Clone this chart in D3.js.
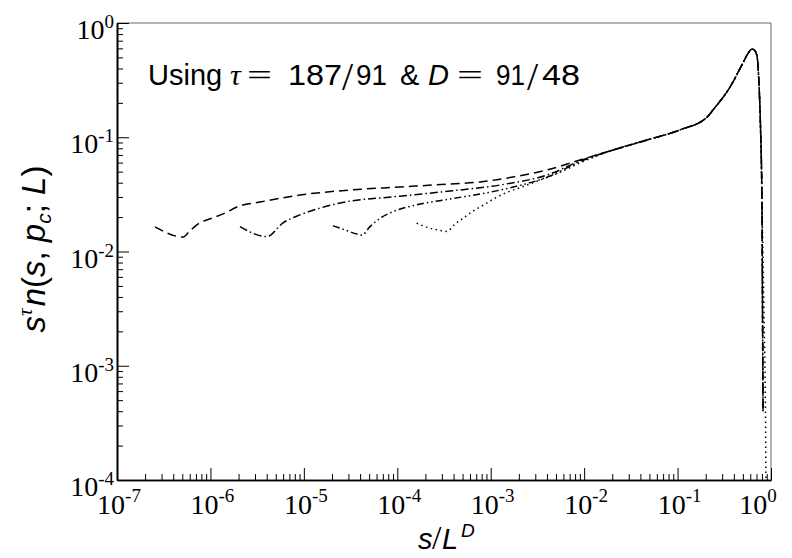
<!DOCTYPE html>
<html>
<head>
<meta charset="utf-8">
<script src="https://cdn.jsdelivr.net/npm/d3@7"></script>
<style>
  html, body { margin: 0; padding: 0; background: #fff; }
  svg { display: block; }
  .serif { font-family: "Liberation Serif", "Times New Roman", serif; }
  .sans { font-family: "Liberation Sans", Arial, Helvetica, sans-serif; }
</style>
</head>
<body>
<svg id="chart" width="792" height="558"></svg>
<script>
// Scaled cluster-size distribution s^tau n(s, p_c; L) versus s/L^D for four lattice sizes.
// Each series: small-s head (own finite-size behaviour) followed by the common scaling tail.

// series 1 (largest L), dashed
const headL1 = [
  [2.55e-7, 0.0164], [5.1e-7, 0.0134], [6.0e-7, 0.0151], [7.7e-7, 0.0178],
  [1.04e-6, 0.0196], [1.43e-6, 0.0217], [1.92e-6, 0.0245], [3.4e-6, 0.0271],
  [9.1e-6, 0.0312], [3.1e-5, 0.0345], [1.07e-4, 0.0367], [3.66e-4, 0.0390],
  [7.7e-4, 0.0406], [1.73e-3, 0.0449], [4.0e-3, 0.0517], [9.0e-3, 0.0632]
];
// series 2, dash-dot
const headL2 = [
  [2.07e-6, 0.0165], [4.03e-6, 0.0135], [5.98e-6, 0.0178], [9.1e-6, 0.0209],
  [1.49e-5, 0.0240], [2.44e-5, 0.0266], [1.07e-4, 0.0305], [3.66e-4, 0.0338],
  [1.26e-3, 0.0382], [4.31e-3, 0.0477], [9.0e-3, 0.0620]
];
// series 3, dash-dot-dot
const headL3 = [
  [2.05e-5, 0.0168], [2.62e-5, 0.0157], [3.71e-5, 0.0142], [4.19e-5, 0.0139],
  [5.1e-5, 0.0165], [6.5e-5, 0.0195], [9.0e-5, 0.0223], [1.75e-4, 0.0260],
  [3.66e-4, 0.0288], [1.26e-3, 0.0345], [4.31e-3, 0.0458], [9.0e-3, 0.0610]
];
// series 4 (smallest L), dotted
const headL4 = [
  [1.61e-4, 0.0177], [2.24e-4, 0.0160], [2.86e-4, 0.0153], [3.40e-4, 0.0150],
  [4.15e-4, 0.0174], [4.93e-4, 0.0192], [6.46e-4, 0.0226], [7.7e-4, 0.0245],
  [1.17e-3, 0.0300], [2.63e-3, 0.0390], [5.94e-3, 0.0507], [9.0e-3, 0.0595]
];
// common scaling function near the cutoff
const tailShared = [
  [0.0204, 0.0773], [0.0471, 0.0946], [0.106, 0.116], [0.207, 0.150],
  [0.239, 0.173], [0.364, 0.275], [0.501, 0.447], [0.57, 0.545],
  [0.627, 0.592], [0.67, 0.575], [0.708, 0.514], [0.743, 0.298],
  [0.775, 0.109], [0.80, 0.028]
];
const tailDash = [[0.81, 4.0e-3], [0.822, 4.0e-4]];
const tailDot = [[0.84, 3.0e-3], [0.875, 3.0e-4], [0.895, 1.0e-5]];

const seriesDash = ["9,5", "8,3,1.5,3", "7,3,1.5,3,1.5,3", "1.5,3.5"];

const xTickExps = [-7, -6, -5, -4, -3, -2, -1, 0];
const yTickExps = [-4, -3, -2, -1, 0];

const series = [
  { pts: headL1.concat(tailShared, tailDash), dash: seriesDash[0] },
  { pts: headL2.concat(tailShared, tailDash), dash: seriesDash[1] },
  { pts: headL3.concat(tailShared, tailDash), dash: seriesDash[2] },
  { pts: headL4.concat(tailShared, tailDot), dash: seriesDash[3] }
];

const svg = d3.select("#chart");
const plot = { left: 117, right: 771, top: 23, bottom: 480 };

const x = d3.scaleLog().domain([1e-7, 1]).range([plot.left, plot.right]);
const y = d3.scaleLog().domain([1e-4, 1]).range([plot.bottom, plot.top]);

// clip region for curves
svg.append("defs").append("clipPath").attr("id", "plotclip")
  .append("rect")
  .attr("x", plot.left).attr("y", plot.top)
  .attr("width", plot.right - plot.left).attr("height", plot.bottom - plot.top);

// frame: thin grey top and right edges
svg.append("line").attr("x1", plot.left).attr("x2", plot.right)
  .attr("y1", plot.top).attr("y2", plot.top)
  .attr("stroke", "#666").attr("stroke-width", 1);
svg.append("line").attr("x1", plot.right).attr("x2", plot.right)
  .attr("y1", plot.top).attr("y2", plot.bottom)
  .attr("stroke", "#666").attr("stroke-width", 1);

// tick values
const majorX = xTickExps.map(e => Math.pow(10, e));
const majorY = yTickExps.map(e => Math.pow(10, e));
function minors(exps) {
  const out = [];
  for (let i = 0; i < exps.length - 1; i++) {
    for (let m = 2; m <= 9; m++) out.push(m * Math.pow(10, exps[i]));
  }
  return out;
}
const minorX = minors(xTickExps);
const minorY = minors(yTickExps);

function styleAxis(g) {
  g.select(".domain").attr("stroke", "#000").attr("stroke-width", 1.6);
  g.selectAll(".tick line").attr("stroke", "#000").attr("stroke-width", 1);
  g.selectAll(".tick text").remove();
}

// bottom axis (ticks point inward)
svg.append("g").attr("transform", `translate(0,${plot.bottom})`)
  .call(d3.axisBottom(x).tickValues(minorX).tickSizeInner(-6).tickSizeOuter(0).tickFormat(""))
  .call(styleAxis);
svg.append("g").attr("transform", `translate(0,${plot.bottom})`)
  .call(d3.axisBottom(x).tickValues(majorX).tickSizeInner(-12).tickSizeOuter(0).tickFormat(""))
  .call(styleAxis);

// left axis (ticks point inward)
svg.append("g").attr("transform", `translate(${plot.left},0)`)
  .call(d3.axisLeft(y).tickValues(minorY).tickSizeInner(-6).tickSizeOuter(0).tickFormat(""))
  .call(styleAxis);
svg.append("g").attr("transform", `translate(${plot.left},0)`)
  .call(d3.axisLeft(y).tickValues(majorY).tickSizeInner(-12).tickSizeOuter(0).tickFormat(""))
  .call(styleAxis);

// power-of-ten tick labels
const labelSize = 28, expSize = 19;
xTickExps.forEach(e => {
  const shift = e === 0 ? -13 : 2;   // keep the last label inside the figure
  const t = svg.append("text").attr("class", "serif")
    .attr("x", x(Math.pow(10, e)) + shift).attr("y", plot.bottom + 34)
    .attr("text-anchor", "middle").attr("font-size", labelSize).attr("fill", "#000");
  t.append("tspan").text("10");
  t.append("tspan").attr("font-size", expSize).attr("dy", -12).text(e === 0 ? "0" : "-" + Math.abs(e));
});
yTickExps.forEach(e => {
  const t = svg.append("text").attr("class", "serif")
    .attr("x", plot.left - 3).attr("y", y(Math.pow(10, e)) + 16)
    .attr("text-anchor", "end").attr("font-size", labelSize).attr("fill", "#000");
  t.append("tspan").text("10");
  t.append("tspan").attr("font-size", expSize).attr("dy", -11).text(e === 0 ? "0" : "-" + Math.abs(e));
});

// curves
const line = d3.line().x(d => x(d[0])).y(d => y(d[1])).curve(d3.curveMonotoneX);
svg.append("g").attr("clip-path", "url(#plotclip)")
  .selectAll("path").data(series).join("path")
  .attr("d", d => line(d.pts))
  .attr("fill", "none").attr("stroke", "#000")
  .attr("stroke-width", 1.5)
  .attr("stroke-dasharray", d => d.dash);

// annotation, laid out piece by piece in math style
const annY = 85;
const annParts = [
  { t: "Using", x: 148, cls: "sans" },
  { t: "τ", x: 230, cls: "serif", it: true, size: 30 },
  { t: "=", x: 247, cls: "serif", len: 25 },
  { t: "187", x: 288, cls: "sans", len: 54 },
  { t: "/", x: 342, cls: "serif", size: 40, dy: 5 },
  { t: "91", x: 356, cls: "sans", len: 31 },
  { t: "&", x: 400, cls: "sans" },
  { t: "D", x: 428, cls: "sans", it: true },
  { t: "=", x: 457, cls: "serif", len: 26 },
  { t: "91", x: 496, cls: "sans", len: 29 },
  { t: "/", x: 527, cls: "serif", size: 40, dy: 5 },
  { t: "48", x: 542, cls: "sans", len: 38 }
];
annParts.forEach(p => {
  const el = svg.append("text").attr("class", p.cls)
    .attr("x", p.x).attr("y", annY + (p.dy || 0))
    .attr("font-size", p.size || 29).attr("fill", "#000")
    .attr("font-style", p.it ? "italic" : "normal")
    .text(p.t);
  if (p.len) el.attr("textLength", p.len).attr("lengthAdjust", "spacingAndGlyphs");
});

// x-axis title
const xtParts = [
  { t: "s", x: 418, it: true, cls: "sans" },
  { t: "/", x: 432, cls: "serif", size: 34 },
  { t: "L", x: 442, it: true, cls: "sans" },
  { t: "D", x: 461, it: true, cls: "sans", size: 19, dy: -12 }
];
xtParts.forEach(p => {
  svg.append("text").attr("class", p.cls)
    .attr("x", p.x).attr("y", 549 + (p.dy || 0))
    .attr("font-size", p.size || 29).attr("fill", "#000")
    .attr("font-style", p.it ? "italic" : "normal")
    .text(p.t);
});

// y-axis title
const yt = svg.append("text").attr("class", "sans")
  .attr("transform", "translate(45,249) rotate(-90)")
  .attr("text-anchor", "middle").attr("font-size", 33).attr("fill", "#000");
yt.append("tspan").attr("font-style", "italic").text("s");
yt.append("tspan").attr("class", "serif").attr("font-style", "italic").attr("font-size", 21).attr("dy", -13).text("τ");
yt.append("tspan").attr("font-style", "italic").attr("dy", 13).attr("dx", 2).text("n");
yt.append("tspan").text("(");
yt.append("tspan").attr("font-style", "italic").text("s");
yt.append("tspan").text(", ");
yt.append("tspan").attr("font-style", "italic").text("p");
yt.append("tspan").attr("font-style", "italic").attr("font-size", 21).attr("dy", 6).text("c");
yt.append("tspan").attr("dy", -6).text("; ");
yt.append("tspan").attr("font-style", "italic").text("L");
yt.append("tspan").text(")");
</script>
</body>
</html>
